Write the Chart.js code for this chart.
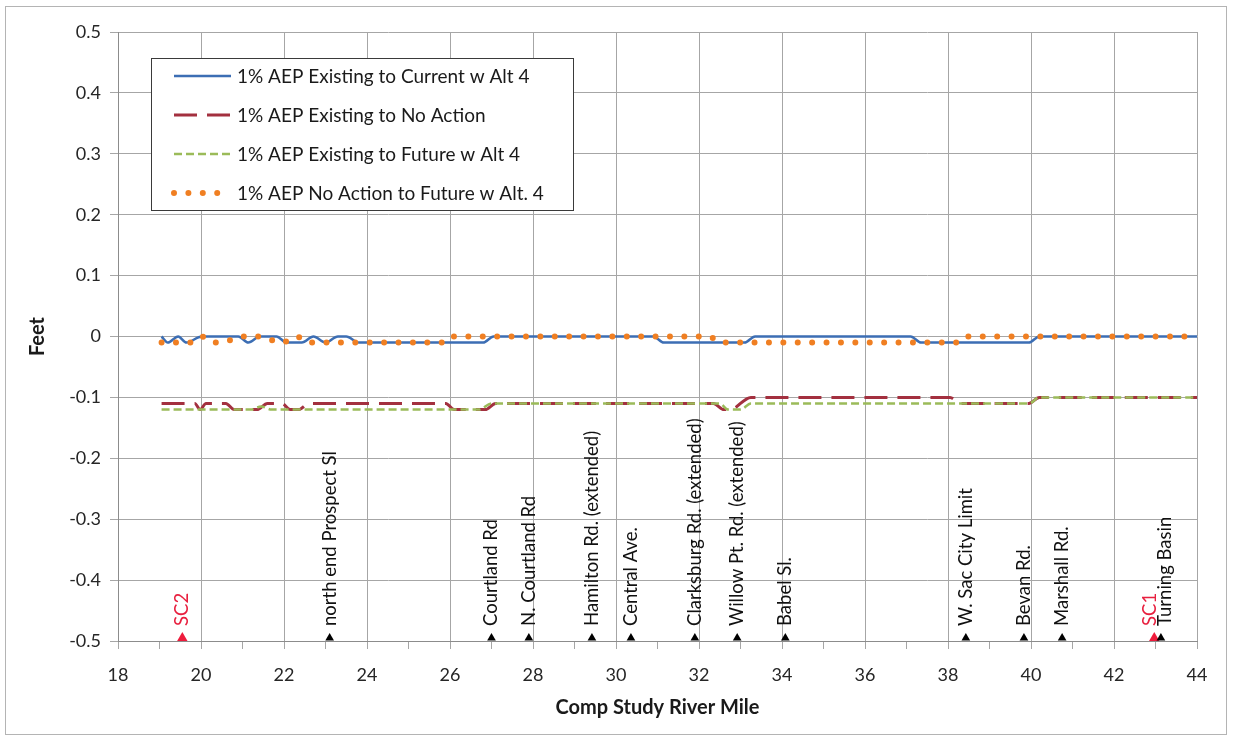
<!DOCTYPE html>
<html>
<head>
<meta charset="utf-8">
<script src="https://cdn.jsdelivr.net/npm/chart.js@4.4.0/dist/chart.umd.min.js"></script>
<style>
  html, body { margin: 0; padding: 0; background: #fff; }
</style>
</head>
<body>
<canvas id="chart" width="1233" height="740"></canvas>
<script>
// differences in feet along the comp study river mile
const currentMiles = [19.05, 19.2, 19.45, 19.65, 20.02, 20.9, 21.14, 21.42, 21.82, 22.06, 22.43, 22.71, 23.0, 23.3, 23.5, 23.8, 26.8, 27.05, 30.9, 31.15, 33.1, 33.35, 37.1, 37.35, 39.95, 40.2, 44.0]
const currentFeet  = [0, -0.01, 0, -0.01, 0, 0, -0.01, 0, 0, -0.01, -0.01, 0, -0.01, 0, 0, -0.01, -0.01, 0, 0, -0.01, -0.01, 0, 0, -0.01, -0.01, 0, 0]

const noActionMiles = [19.05, 19.85, 19.98, 20.12, 20.6, 20.8, 21.35, 21.6, 21.95, 22.15, 22.35, 22.6, 25.9, 26.1, 26.85, 27.1, 32.35, 32.6, 32.75, 33.25, 38.05, 38.3, 39.95, 40.2, 44.0]
const noActionFeet  = [-0.11, -0.11, -0.12, -0.11, -0.11, -0.12, -0.12, -0.11, -0.11, -0.12, -0.12, -0.11, -0.11, -0.12, -0.12, -0.11, -0.11, -0.12, -0.12, -0.10, -0.10, -0.11, -0.11, -0.10, -0.10]

const futureMiles = [19.05, 20.9, 21.2, 21.45, 21.7, 26.7, 27.0, 32.5, 32.7, 33.0, 33.25, 39.95, 40.2, 44.0]
const futureFeet  = [-0.12, -0.12, -0.12, -0.115, -0.12, -0.12, -0.11, -0.11, -0.12, -0.12, -0.11, -0.11, -0.10, -0.10]

const naFutureMiles = [19.05, 19.75, 20.02, 20.3, 20.65, 21.0, 21.35, 21.65, 21.95, 22.3, 22.6, 25.85, 26.05, 32.25, 32.5, 38.2, 38.4, 44.0]
const naFutureFeet  = [-0.01, -0.01, 0, -0.01, -0.007, 0, 0, -0.005, -0.01, 0, -0.01, -0.01, 0, 0, -0.01, -0.01, 0, 0]

const seriesNames = [
  '1% AEP Existing to Current w Alt 4',
  '1% AEP Existing to No Action',
  '1% AEP Existing to Future w Alt 4',
  '1% AEP No Action to Future w Alt. 4'
]

// landmarks along the river
const landmarkNames = ['north end Prospect Sl', 'Courtland Rd', 'N. Courtland Rd', 'Hamilton Rd. (extended)', 'Central Ave.', 'Clarksburg Rd. (extended)', 'Willow Pt. Rd. (extended)', 'Babel Sl.', 'W. Sac City Limit', 'Bevan Rd.', 'Marshall Rd.', 'Turning Basin']
const landmarkMiles = [23.1, 27.0, 27.9, 29.42, 30.36, 31.9, 32.92, 34.08, 38.43, 39.83, 40.75, 43.13]
const gageNames = ['SC2', 'SC1']
const gageMiles = [19.55, 42.97]
const markerLevel = -0.495

const yTicks = [-0.5, -0.4, -0.3, -0.2, -0.1, 0, 0.1, 0.2, 0.3, 0.4, 0.5]

const pairs = (xs, ys) => xs.map((x, i) => ({ x: x, y: ys[i] }))

Chart.defaults.font.family = "Lato, 'Open Sans', sans-serif"
Chart.defaults.color = '#262626'

const frame = {
  id: 'frame',
  beforeDraw(chart) {
    const ctx = chart.ctx
    ctx.save()
    ctx.fillStyle = '#fff'
    ctx.fillRect(0, 0, chart.width, chart.height)
    ctx.strokeStyle = '#b4b4b4'
    ctx.lineWidth = 1
    ctx.strokeRect(5.5, 6.5, 1221, 728)
    ctx.restore()
  }
}

const markerLabels = {
  id: 'markerLabels',
  afterDatasetsDraw(chart) {
    const ctx = chart.ctx
    const xs = chart.scales.x, ys = chart.scales.y
    const y0 = ys.getPixelForValue(markerLevel) - 12
    // collect labels, then push apart any that would overlap sideways
    const items = []
    landmarkNames.forEach((n, i) => items.push({ text: n, px: xs.getPixelForValue(landmarkMiles[i]), color: '#111' }))
    gageNames.forEach((n, i) => items.push({ text: n, px: xs.getPixelForValue(gageMiles[i]), color: '#e8203f' }))
    items.sort((a, b) => a.px - b.px)
    const minGap = 15
    for (let i = 1; i < items.length; i++) {
      const gap = items[i].px - items[i - 1].px
      if (gap < minGap) {
        const d = (minGap - gap) / 2
        items[i - 1].px -= d
        items[i].px += d
      }
    }
    ctx.save()
    ctx.font = '18.5px Lato, sans-serif'
    ctx.textAlign = 'left'
    ctx.textBaseline = 'middle'
    items.forEach(it => {
      ctx.save()
      ctx.translate(it.px, y0)
      ctx.rotate(-Math.PI / 2)
      ctx.fillStyle = it.color
      ctx.fillText(it.text, 0, 0)
      ctx.restore()
    })
    ctx.restore()
  }
}

const boxLegend = {
  id: 'boxLegend',
  afterDraw(chart) {
    const ctx = chart.ctx
    const a = chart.chartArea
    const left = a.left + 33, top = a.top + 26
    ctx.save()
    ctx.fillStyle = '#fff'
    ctx.fillRect(left, top, 422, 152)
    ctx.strokeStyle = '#3a3a3a'
    ctx.lineWidth = 1
    ctx.strokeRect(left + 0.5, top + 0.5, 422, 152)
    ctx.font = '19px Lato, sans-serif'
    ctx.textBaseline = 'middle'
    ctx.fillStyle = '#1a1a1a'
    for (let i = 0; i < 4; i++) {
      const ds = chart.data.datasets[i]
      const y = top + 18 + i * 39
      ctx.save()
      ctx.strokeStyle = ds.borderColor
      ctx.lineWidth = ds.borderWidth
      ctx.setLineDash(ds.borderDash || [])
      ctx.lineCap = ds.borderCapStyle || 'butt'
      ctx.beginPath()
      ctx.moveTo(left + 23, y)
      ctx.lineTo(left + (i === 3 ? 73 : 80), y)
      ctx.stroke()
      ctx.restore()
      ctx.fillText(ds.label, left + 86, y + 1)
    }
    ctx.restore()
  }
}

new Chart(document.getElementById('chart'), {
  type: 'line',
  data: {
    datasets: [
      { label: seriesNames[0], data: pairs(currentMiles, currentFeet), borderColor: '#3c6eb4', borderWidth: 2.5, order: 4 },
      { label: seriesNames[1], data: pairs(noActionMiles, noActionFeet), borderColor: '#a3303f', borderWidth: 3, borderDash: [23, 10], order: 3 },
      { label: seriesNames[2], data: pairs(futureMiles, futureFeet), borderColor: '#9bbb59', borderWidth: 2.5, borderDash: [8, 4], order: 2 },
      { label: seriesNames[3], data: pairs(naFutureMiles, naFutureFeet), borderColor: '#f07f22', borderWidth: 6, borderDash: [0, 14.4], borderCapStyle: 'round', order: 1 },
      { label: 'landmarks', data: landmarkMiles.map(m => ({ x: m, y: markerLevel })), showLine: false, pointStyle: 'triangle', pointRadius: 5, backgroundColor: '#000', borderColor: '#000', borderWidth: 0, order: 0 },
      { label: 'gages', data: gageMiles.map(m => ({ x: m, y: markerLevel })), showLine: false, pointStyle: 'triangle', pointRadius: 6, backgroundColor: '#ee1c3c', borderColor: '#ee1c3c', borderWidth: 0, order: 0 }
    ]
  },
  options: {
    responsive: false,
    animation: false,
    devicePixelRatio: 1,
    elements: {
      point: { radius: 0 },
      line: { cubicInterpolationMode: 'monotone', fill: false }
    },
    layout: { padding: { left: 26, top: 32, right: 36, bottom: 20 } },
    plugins: {
      legend: { display: false },
      tooltip: { enabled: false }
    },
    scales: {
      x: {
        type: 'linear',
        min: 18,
        max: 44,
        afterFit: (s) => { s.height = 79 },
        border: { color: '#8c8c8c', width: 1 },
        grid: {
          color: (c) => (c.tick && c.tick.value % 2 === 0) ? '#a6a6a6' : 'rgba(0,0,0,0)',
          tickColor: '#a6a6a6',
          tickLength: 8
        },
        ticks: {
          stepSize: 1,
          autoSkip: false,
          maxRotation: 0,
          padding: 15,
          font: { size: 18 },
          callback: (v) => v % 2 === 0 ? String(v) : ''
        },
        title: {
          display: true,
          text: 'Comp Study River Mile',
          font: { size: 20, weight: 'bold' },
          color: '#1a1a1a',
          padding: { top: 0, bottom: 0 }
        }
      },
      y: {
        min: -0.5,
        max: 0.5,
        afterFit: (s) => { s.width = 92 },
        afterBuildTicks: (s) => { s.ticks = yTicks.map(v => ({ value: v })) },
        border: { color: '#8c8c8c', width: 1 },
        grid: { color: '#a6a6a6', tickLength: 8 },
        ticks: {
          padding: 9,
          font: { size: 18 },
          callback: (v) => String(Math.round(v * 10) / 10)
        },
        title: {
          display: true,
          text: 'Feet',
          font: { size: 20, weight: 'bold' },
          color: '#1a1a1a',
          padding: { top: 0, bottom: 0 }
        }
      }
    }
  },
  plugins: [frame, markerLabels, boxLegend]
})
</script>
</body>
</html>
